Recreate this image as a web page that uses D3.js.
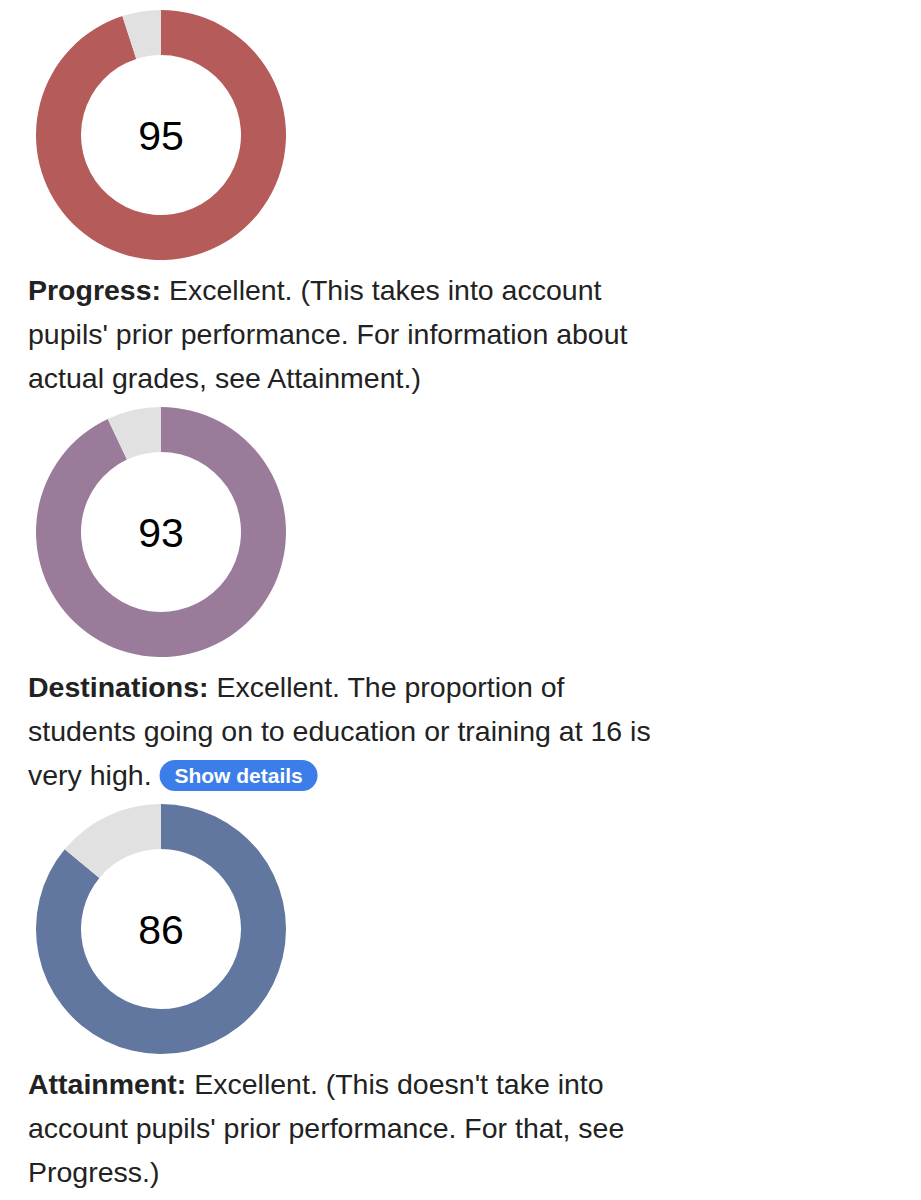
<!DOCTYPE html>
<html>
<head>
<meta charset="utf-8">
<script src="https://cdn.jsdelivr.net/npm/d3@7"></script>
<style>
  body { margin: 0; background: #fff; }
  svg text { font-family: "Liberation Sans", Arial, sans-serif; }
</style>
</head>
<body>
<div id="chart"></div>
<script>
// data
var names = ["Progress", "Destinations", "Attainment"];
var scores = [95, 93, 86];
var colors = ["#b55c5a", "#9b7b9a", "#62779f"];
var captions = [
  ["Excellent. (This takes into account", "pupils' prior performance. For information about", "actual grades, see Attainment.)"],
  ["Excellent. The proportion of", "students going on to education or training at 16 is", "very high."],
  ["Excellent. (This doesn't take into", "account pupils' prior performance. For that, see", "Progress.)"]
];

var width = 921, height = 1200;
var svg = d3.select("#chart")
  .append("svg")
    .attr("width", width)
    .attr("height", height);

var outerR = 125, innerR = 80;
var cx = 161;
var rowY = d3.scaleLinear().domain([0, 1]).range([135, 532]); // block spacing

var pie = d3.pie().sort(null).value(function(d) { return d; });
var arc = d3.arc().innerRadius(innerR).outerRadius(outerR);

names.forEach(function(name, i) {
  var g = svg.append("g")
    .attr("transform", "translate(" + cx + "," + rowY(i) + ")");

  g.selectAll("path")
    .data(pie([scores[i], 100 - scores[i]]))
    .enter()
    .append("path")
      .attr("d", arc)
      .attr("fill", function(d, j) { return j === 0 ? colors[i] : "#e1e1e1"; });

  g.append("text")
    .attr("text-anchor", "middle")
    .attr("y", 15)
    .style("font-size", "41px")
    .style("fill", "#000")
    .text(scores[i]);

  // caption
  var ty = rowY(i) + 165;
  captions[i].forEach(function(line, k) {
    var t = svg.append("text")
      .attr("x", 28)
      .attr("y", ty + k * 44)
      .style("font-size", "28.5px")
      .style("fill", "#222");
    if (k === 0) {
      t.append("tspan").style("font-weight", "bold").text(name + ":");
      t.append("tspan").text(" " + line);
    } else {
      t.text(line);
    }
    // button after last line of Destinations
    if (i === 1 && k === 2) {
      var bx = 28 + t.node().getComputedTextLength() + 8;
      var bg = svg.append("g").attr("transform", "translate(" + bx + "," + (ty + k * 44 - 25) + ")");
      bg.append("rect")
        .attr("width", 158).attr("height", 31)
        .attr("rx", 15.5)
        .attr("fill", "#3b7ee9");
      bg.append("text")
        .attr("x", 79).attr("y", 23)
        .attr("text-anchor", "middle")
        .style("font-size", "21px")
        .style("font-weight", "bold")
        .style("fill", "#fff")
        .text("Show details");
    }
  });
});
</script>
</body>
</html>
